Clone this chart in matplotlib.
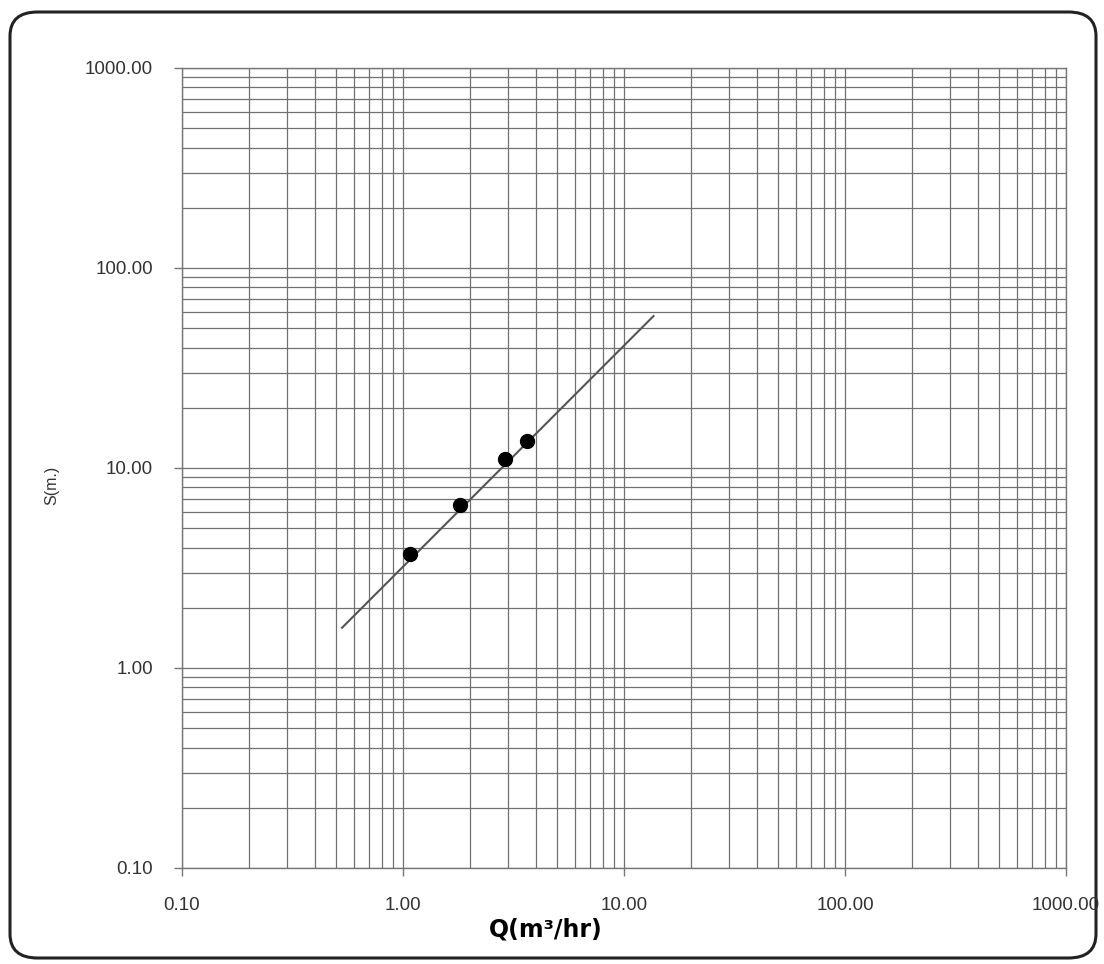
import matplotlib.pyplot as plt
from matplotlib.patches import FancyBboxPatch
from matplotlib.ticker import LogLocator, FixedLocator, FormatStrFormatter, NullFormatter

# pumping test points: discharge Q (m3/hr) vs drawdown S (m)
q_obs = [1.08, 1.81, 2.89, 3.63]
s_obs = [3.72, 6.53, 11.1, 13.7]

# fitted line end points
q_fit = [0.53, 13.6]
s_fit = [1.59, 57.5]

decades = [0.1, 1, 10, 100, 1000]

plt.rcParams['font.family'] = ['Liberation Sans', 'DejaVu Sans']

fig = plt.figure(figsize=(11.04, 9.64), dpi=100)
ax = fig.add_axes([182 / 1104, 1 - 868 / 964, (1066 - 182) / 1104, 800 / 964])

# rounded frame round the whole sheet
frame = FancyBboxPatch((10 / 1104, 6 / 964), 1086 / 1104, 946 / 964,
                       boxstyle='round,pad=0,rounding_size=0.025',
                       transform=fig.transFigure, facecolor='none',
                       edgecolor='#222222', linewidth=2.2, zorder=-1)
fig.patches.append(frame)

ax.set_xscale('log')
ax.set_yscale('log')
ax.set_xlim(0.1, 1000)
ax.set_ylim(0.1, 1000)

ax.xaxis.set_major_locator(FixedLocator(decades))
ax.yaxis.set_major_locator(FixedLocator(decades))
ax.xaxis.set_minor_locator(LogLocator(base=10, subs=range(2, 10), numticks=20))
ax.yaxis.set_minor_locator(LogLocator(base=10, subs=range(2, 10), numticks=20))
ax.xaxis.set_major_formatter(FormatStrFormatter('%.2f'))
ax.yaxis.set_major_formatter(FormatStrFormatter('%.2f'))
ax.xaxis.set_minor_formatter(NullFormatter())
ax.yaxis.set_minor_formatter(NullFormatter())

ax.grid(True, which='both', color='#707070', linewidth=0.9)
ax.set_axisbelow(True)
ax.tick_params(which='major', direction='out', length=6, width=1, color='#777777',
               labelsize=13.5, labelcolor='#333333', pad=15)
ax.tick_params(which='minor', length=0)
for sp in ax.spines.values():
    sp.set_color('#777777')
    sp.set_linewidth(1.0)

ax.plot(q_fit, s_fit, color='#555555', linewidth=1.5, zorder=3)
ax.plot(q_obs, s_obs, 'o', color='black', markersize=10, zorder=4)

fig.text(546 / 1104, 1 - 930 / 964, 'Q(m³/hr)', ha='center', va='center',
         fontsize=17, fontweight='bold', family=['DejaVu Sans'])
fig.text(52 / 1104, 1 - 485 / 964, 'S(m.)', ha='center', va='center',
         rotation=90, fontsize=11.5, color='#333333')

fig.savefig('out.png', dpi=100)
